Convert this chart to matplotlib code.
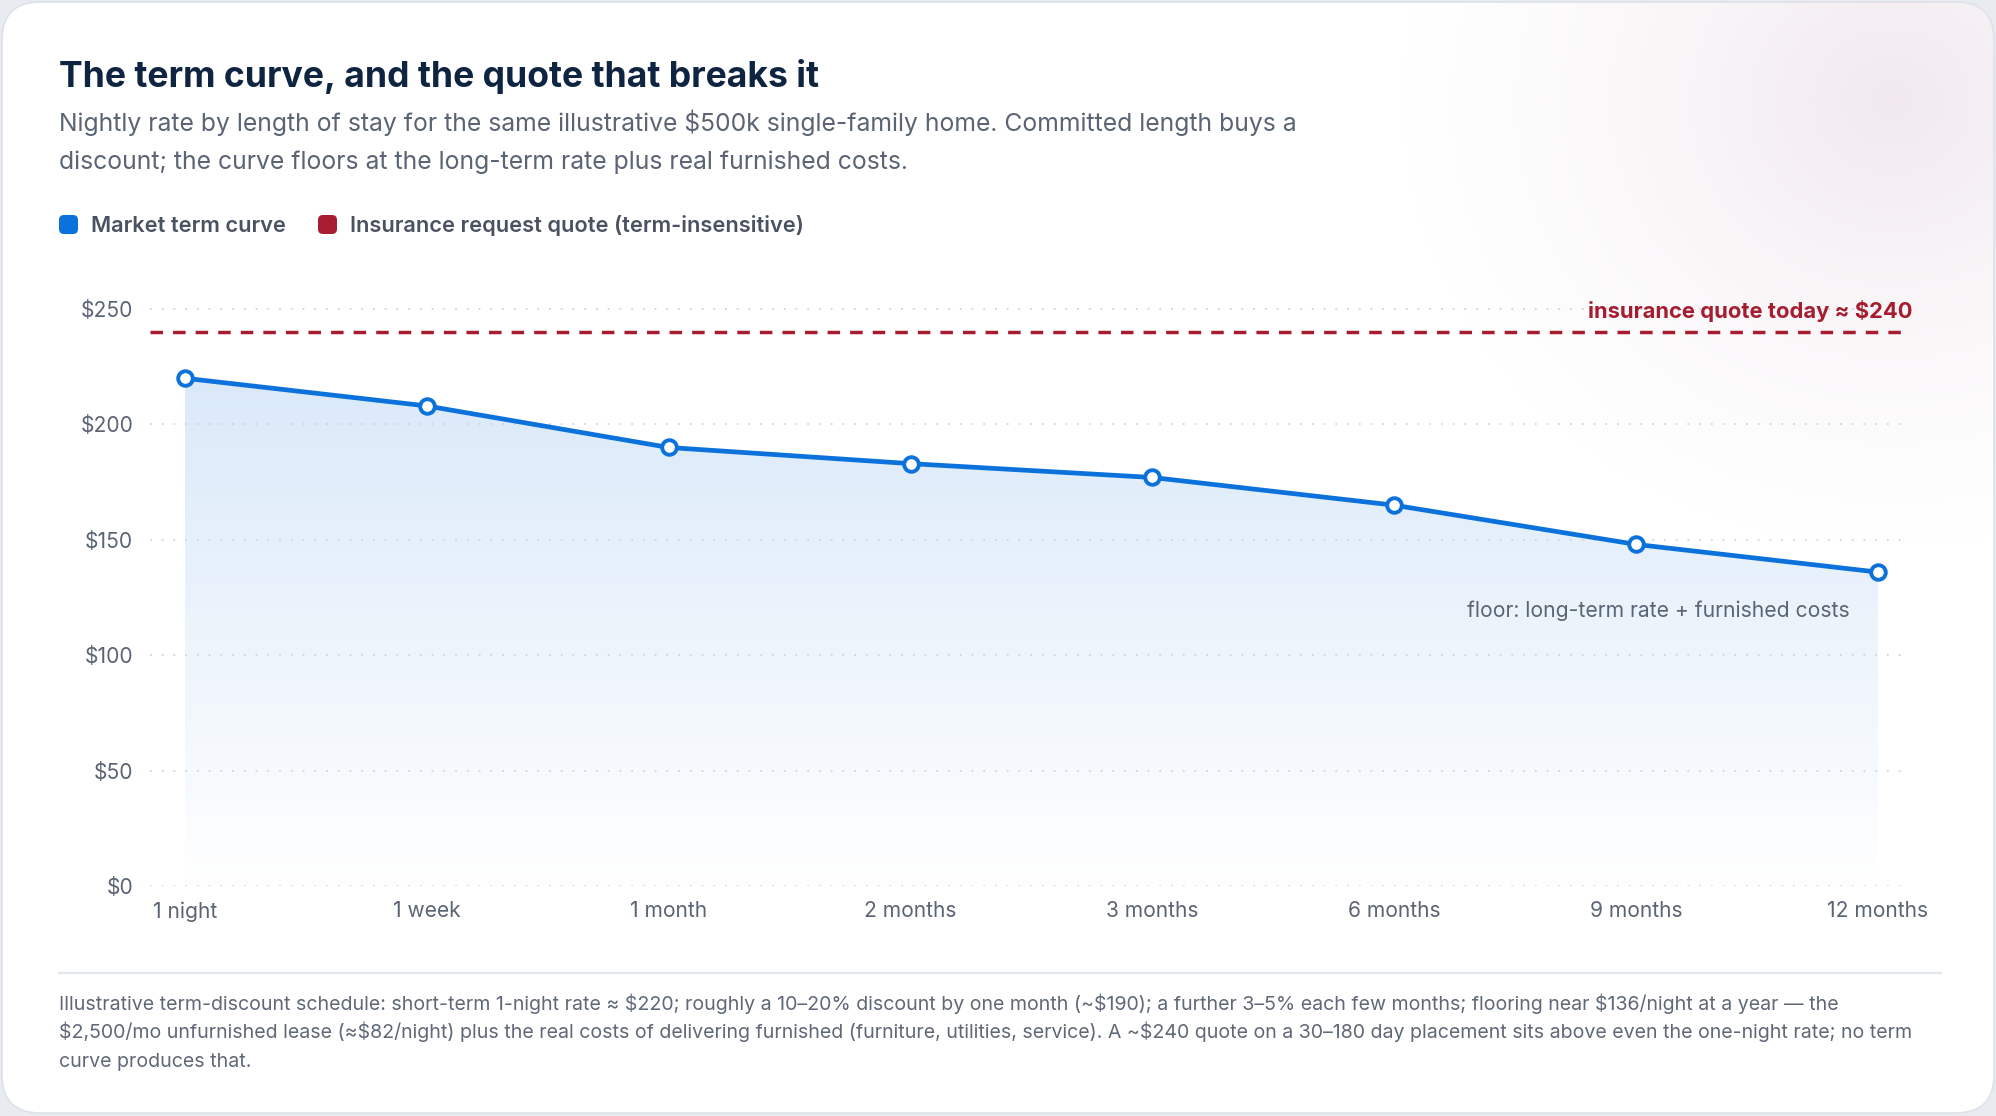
import numpy as np
import matplotlib

matplotlib.use("Agg")
import matplotlib.pyplot as plt
from matplotlib.colors import LinearSegmentedColormap, to_rgb
from matplotlib.patches import FancyBboxPatch
from matplotlib.ticker import FixedLocator, FuncFormatter

TERMS = ["1 night", "1 week", "1 month", "2 months", "3 months",
         "6 months", "9 months", "12 months"]
MARKET_RATE = [220, 208, 190, 183, 177, 165, 148, 136]
INSURANCE_QUOTE = 240
Y_TICKS = [0, 50, 100, 150, 200, 250]

TITLE = "The term curve, and the quote that breaks it"
SUBTITLE = [
    "Nightly rate by length of stay for the same illustrative $500k single-family home. Committed length buys a",
    "discount; the curve floors at the long-term rate plus real furnished costs.",
]
LEGEND = ["Market term curve", "Insurance request quote (term-insensitive)"]
FOOTNOTE = [
    "Illustrative term-discount schedule: short-term 1-night rate \u2248 $220; roughly a 10\u201320% discount by one month (~$190); a further 3\u20135% each few months; flooring near $136/night at a year \u2014 the",
    "$2,500/mo unfurnished lease (\u2248$82/night) plus the real costs of delivering furnished (furniture, utilities, service). A ~$240 quote on a 30\u2013180 day placement sits above even the one-night rate; no term",
    "curve produces that.",
]

BLUE = "#0b72db"
RED = "#a51d2f"
NAVY = "#0f2440"
GREY = "#5b6474"

W, H = 1996, 1116
plt.rcParams["font.family"] = ["Inter", "DejaVu Sans"]

fig = plt.figure(figsize=(W / 100, H / 100), dpi=100)
fig.patch.set_facecolor("#e8ecf1")

# background layer in pixel units (y down)
bg = fig.add_axes([0, 0, 1, 1])
bg.axis("off")
card = FancyBboxPatch((2, 2), W - 4, H - 5,
                      boxstyle="round,pad=0,rounding_size=38",
                      facecolor="white", edgecolor="#dde2ea", lw=1.2, zorder=0)
bg.add_patch(card)

gy, gx = np.mgrid[0:H:4, 0:W:4]
r = np.hypot(gx - 1890, (gy - 100) * 1.1) / 500
glow = np.zeros(gx.shape + (4,))
glow[..., :3] = to_rgb("#ebe0e8")
glow[..., 3] = np.clip(1 - r, 0, 1) ** 1.4 * 0.7
im = bg.imshow(glow, extent=(0, W, H, 0), interpolation="bilinear",
               aspect="auto", zorder=1)
im.set_clip_path(card)
bg.set_xlim(0, W)
bg.set_ylim(H, 0)

bg.text(59, 87, TITLE, fontsize=25.6, fontweight="bold", color=NAVY, va="baseline")
for i, line in enumerate(SUBTITLE):
    bg.text(59, 131 + i * 37.5, line, fontsize=17.8, color=GREY, va="baseline")

for x0, label, color in [(59, LEGEND[0], BLUE), (318, LEGEND[1], RED)]:
    bg.add_patch(FancyBboxPatch((x0, 215), 19, 19,
                                boxstyle="round,pad=0,rounding_size=5",
                                facecolor=color, edgecolor="none", zorder=2))
    bg.text(x0 + 32, 232, label, fontsize=15.7, fontweight="semibold",
            color="#4a5262", va="baseline")

bg.plot([59, 1941], [973, 973], color="#e3e7ee", lw=1.5, zorder=2)
for i, line in enumerate(FOOTNOTE):
    bg.text(59, 1010 + i * 28.5, line, fontsize=14.1, color="#5f6877",
            va="baseline")

# main chart
y_top = 262
px_per_unit = (886 - 309) / 250
ax = fig.add_axes([150 / W, 1 - 886 / H, 1756 / W,
                   (y_top * px_per_unit) / H])
ax.set_facecolor("none")
x = np.arange(len(TERMS))

fill = ax.fill_between(x, MARKET_RATE, 0, color="none", lw=0)
grad = np.linspace(0, 1, 256).reshape(-1, 1)
cmap = LinearSegmentedColormap.from_list("fade", ["#ffffff", "#d5e6f8"])
img = ax.imshow(grad, extent=(x[0], x[-1], 0, 250), origin="lower",
                aspect="auto", cmap=cmap, zorder=1, interpolation="bilinear")
img.set_clip_path(fill.get_paths()[0], transform=ax.transData)

ax.plot(x, MARKET_RATE, color=BLUE, lw=3.4, marker="o", ms=10.5,
        mfc="white", mec=BLUE, mew=2.8, zorder=4, solid_capstyle="round")
ax.axhline(INSURANCE_QUOTE, color=RED, lw=2.5, dashes=(3.6, 2.9), zorder=3)

ax.annotate(f"insurance quote today \u2248 ${INSURANCE_QUOTE}",
            xy=(1, INSURANCE_QUOTE), xycoords=("axes fraction", "data"),
            xytext=(6, 14), textcoords="offset pixels",
            ha="right", va="baseline", fontsize=15.8, fontweight="bold", color=RED)
ax.annotate("floor: long-term rate + furnished costs",
            xy=(x[-1], MARKET_RATE[-1]), xytext=(-28, -45),
            textcoords="offset pixels", ha="right", va="baseline",
            fontsize=15.2, color=GREY)

ax.set_xlim(-0.1447, 7.116)
ax.set_ylim(0, y_top)
ax.yaxis.set_major_locator(FixedLocator(Y_TICKS))
ax.yaxis.set_major_formatter(FuncFormatter(lambda v, _: f"${v:.0f}"))
ax.set_xticks(x)
ax.set_xticklabels(TERMS)
ax.yaxis.grid(True, color="#cfd5de", lw=1.3, dashes=(1, 5.5), zorder=2)
ax.set_axisbelow(False)
for s in ax.spines.values():
    s.set_visible(False)
ax.tick_params(axis="both", length=0, labelsize=15.1, labelcolor=GREY)
ax.tick_params(axis="x", pad=11)
ax.tick_params(axis="y", pad=12)

fig.savefig("out.png", dpi=100, facecolor=fig.get_facecolor())
